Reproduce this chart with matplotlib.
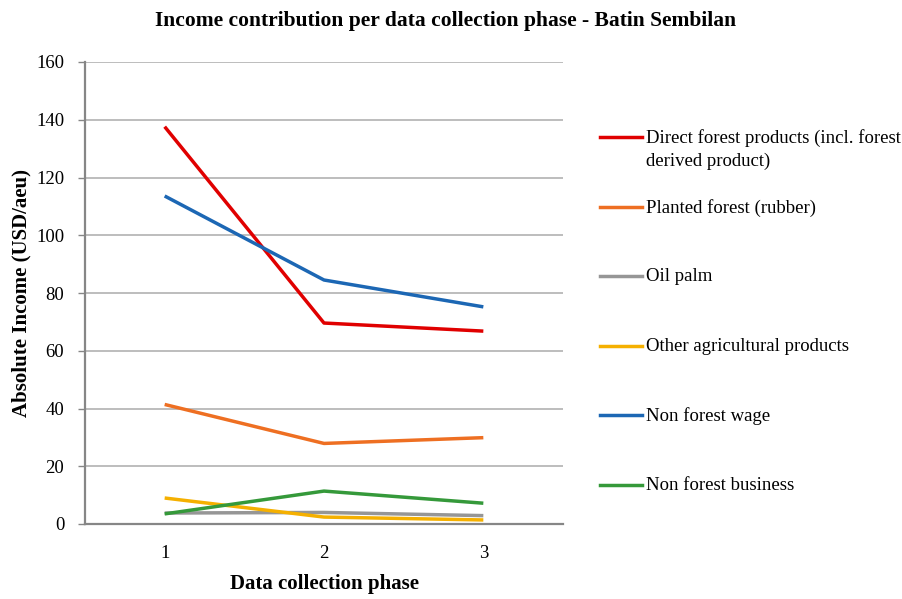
import matplotlib.pyplot as plt
from matplotlib.lines import Line2D

plt.rcParams['font.family'] = ['Liberation Serif', 'DejaVu Serif']

# Data
phases = [1, 2, 3]
direct_forest = [137.6, 69.6, 66.8]
planted_forest = [41.4, 27.9, 29.9]
oil_palm = [3.8, 4.0, 2.9]
other_agri = [9.0, 2.4, 1.4]
non_forest_wage = [113.6, 84.5, 75.2]
non_forest_business = [3.5, 11.4, 7.2]

labels = ['Direct forest products (incl. forest\nderived product)',
          'Planted forest (rubber)',
          'Oil palm',
          'Other agricultural products',
          'Non forest wage',
          'Non forest business']
colors = ['#E00000', '#EE6F22', '#969696', '#F5B000', '#1C67B4', '#35993A']
series = [direct_forest, planted_forest, oil_palm, other_agri,
          non_forest_wage, non_forest_business]

fig = plt.figure(figsize=(9.02, 5.99), dpi=100)
ax = fig.add_axes([85 / 902, 75 / 599, 478 / 902, 462 / 599])

for vals, c in zip(series, colors):
    ax.plot(phases, vals, color=c, lw=2.5, solid_capstyle='butt', zorder=3)

ax.set_xlim(0.5, 3.5)
ax.set_ylim(0, 160)
ax.set_xticks(phases)
ax.set_yticks(range(0, 161, 20))
ax.grid(axis='y', color='#ABABAB', lw=1.1, zorder=0)
ax.set_axisbelow(True)
for s in ['top', 'right']:
    ax.spines[s].set_visible(False)
for s in ['left', 'bottom']:
    ax.spines[s].set_color('#868686')
    ax.spines[s].set_linewidth(1.6)
ax.tick_params(axis='x', length=0, pad=15, labelsize=13.5)
ax.tick_params(axis='y', length=5, color='#868686', width=1, pad=10, labelsize=13.5)

ax.set_xlabel('Data collection phase', fontsize=15, fontweight='bold', labelpad=9)
ax.set_ylabel('Absolute Income (USD/aeu)', fontsize=15, fontweight='bold', labelpad=3)
fig.text(446 / 902, 1 - 21 / 599, 'Income contribution per data collection phase - Batin Sembilan',
         ha='center', va='center', fontsize=15.5, fontweight='bold')

# legend drawn by hand to keep Excel-like spacing
y0 = 137
step = 69.6
for i, (lab, c) in enumerate(zip(labels, colors)):
    yp = 1 - (y0 + i * step) / 599
    fig.add_artist(Line2D([600 / 902, 642 / 902], [yp, yp], color=c, lw=2.5,
                          transform=fig.transFigure))
    fig.text(646 / 902, yp + 8 / 599, lab, ha='left', va='top', fontsize=13.5,
             linespacing=1.45)

fig.savefig('out.png', dpi=100)
